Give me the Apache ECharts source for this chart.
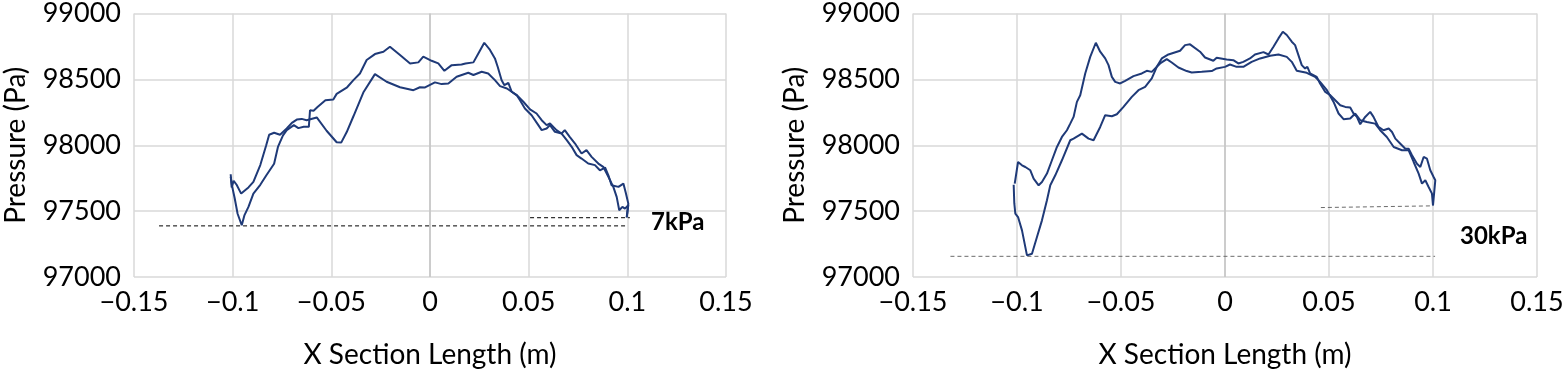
<!DOCTYPE html>
<html>
<head>
<meta charset="utf-8">
<script src="https://cdn.jsdelivr.net/npm/echarts@6/dist/echarts.min.js"></script>
<style>
html,body{margin:0;padding:0;background:#fff;}
#main{width:1565px;height:372px;}
</style>
</head>
<body>
<div id="main"></div>
<script>
// ---------- DATA ----------
const xTicks = [-0.15, -0.1, -0.05, 0, 0.05, 0.1, 0.15];
const yTicks = [97000, 97500, 98000, 98500, 99000];
const panelLabels = ['7kPa', '30kPa'];

// Panel 1 (7kPa)
const p1CurveA = [[-0.1010,97760],[-0.1003,97690],[-0.0990,97600],[-0.0975,97480],[-0.0954,97393],[-0.0940,97470],[-0.0920,97532],[-0.0895,97633],[-0.0860,97700],[-0.0830,97770],[-0.0790,97860],[-0.0770,97990],[-0.0745,98075],[-0.0726,98115],[-0.0690,98153],[-0.0667,98130],[-0.0640,98140],[-0.0614,98140],[-0.0608,98266],[-0.0590,98262],[-0.0570,98290],[-0.0530,98342],[-0.0490,98347],[-0.0473,98390],[-0.0420,98440],[-0.0388,98494],[-0.0355,98545],[-0.0321,98647],[-0.0279,98692],[-0.0236,98710],[-0.0203,98748],[-0.0152,98685],[-0.0101,98621],[-0.0059,98629],[-0.0034,98672],[-0.0025,98672],[0.0008,98641],[0.0042,98621],[0.0050,98634],[0.0073,98565],[0.0110,98608],[0.0160,98613],[0.0180,98621],[0.0220,98629],[0.0245,98697],[0.0275,98778],[0.0304,98723],[0.0329,98659],[0.0343,98596],[0.0363,98494],[0.0377,98456],[0.0397,98474],[0.0414,98406],[0.0439,98381],[0.0456,98342],[0.0481,98279],[0.0515,98228],[0.0549,98153],[0.0566,98115],[0.0591,98127],[0.0608,98153],[0.0633,98102],[0.0667,98089],[0.0683,98115],[0.0708,98064],[0.0735,98013],[0.0768,97937],[0.0793,97963],[0.0819,97912],[0.0853,97861],[0.0878,97836],[0.0904,97760],[0.0929,97684],[0.0946,97608],[0.0959,97507],[0.0975,97532],[0.0988,97519],[0.1005,97545],[0.0997,97450]];
const p1CurveB = [[-0.1010,97780],[-0.1005,97680],[-0.0995,97730],[-0.0980,97700],[-0.0957,97633],[-0.0920,97680],[-0.0895,97722],[-0.0860,97850],[-0.0830,98000],[-0.0815,98080],[-0.0790,98095],[-0.0760,98080],[-0.0726,98127],[-0.0700,98170],[-0.0675,98195],[-0.0650,98200],[-0.0625,98190],[-0.0574,98211],[-0.0524,98110],[-0.0473,98023],[-0.0450,98020],[-0.0422,98100],[-0.0388,98220],[-0.0338,98400],[-0.0279,98540],[-0.0220,98482],[-0.0152,98440],[-0.0084,98418],[-0.0051,98440],[-0.0025,98439],[0.0025,98477],[0.0059,98464],[0.0093,98469],[0.0135,98520],[0.0194,98550],[0.0220,98533],[0.0262,98558],[0.0295,98545],[0.0329,98494],[0.0355,98449],[0.0390,98431],[0.0439,98381],[0.0473,98330],[0.0507,98272],[0.0540,98241],[0.0566,98190],[0.0591,98153],[0.0608,98165],[0.0641,98115],[0.0667,98089],[0.0693,98039],[0.0718,97988],[0.0743,97925],[0.0768,97899],[0.0802,97861],[0.0836,97849],[0.0861,97810],[0.0887,97831],[0.0904,97772],[0.0920,97697],[0.0955,97684],[0.0980,97709],[0.0993,97633],[0.1005,97557],[0.0997,97456]];
const p1RefLow = [[-0.1373,97388],[0.1000,97388]];
const p1RefHigh = [[0.0507,97450],[0.1013,97450]];

// Panel 2 (30kPa)
const p2CurveC = [[-0.1011,97709],[-0.0995,97873],[-0.0976,97848],[-0.0960,97835],[-0.0952,97848],[-0.0936,97810],[-0.0920,97746],[-0.0896,97696],[-0.0880,97721],[-0.0856,97785],[-0.0832,97886],[-0.0808,97987],[-0.0784,98063],[-0.0760,98114],[-0.0744,98164],[-0.0728,98215],[-0.0712,98329],[-0.0696,98380],[-0.0672,98545],[-0.0648,98671],[-0.0621,98778],[-0.0600,98710],[-0.0576,98659],[-0.0560,98608],[-0.0544,98519],[-0.0528,98481],[-0.0504,98469],[-0.0480,98489],[-0.0440,98525],[-0.0400,98545],[-0.0376,98565],[-0.0352,98557],[-0.0312,98621],[-0.0280,98654],[-0.0256,98628],[-0.0224,98590],[-0.0184,98563],[-0.0160,98552],[-0.0112,98557],[-0.0064,98563],[-0.0040,98583],[0.0000,98595],[0.0024,98613],[0.0056,98595],[0.0088,98595],[0.0128,98633],[0.0169,98659],[0.0217,98679],[0.0257,98689],[0.0297,98671],[0.0321,98633],[0.0345,98565],[0.0393,98550],[0.0433,98519],[0.0457,98481],[0.0490,98418],[0.0522,98329],[0.0546,98241],[0.0570,98198],[0.0602,98203],[0.0626,98241],[0.0650,98190],[0.0682,98177],[0.0722,98164],[0.0746,98114],[0.0778,98063],[0.0811,97987],[0.0851,97962],[0.0883,97962],[0.0907,97873],[0.0931,97785],[0.0947,97709],[0.0963,97734],[0.0979,97683],[0.0995,97633],[0.1000,97544]];
const p2CurveD = [[-0.1016,97700],[-0.1013,97560],[-0.1008,97481],[-0.0995,97455],[-0.0976,97354],[-0.0952,97164],[-0.0928,97177],[-0.0904,97303],[-0.0880,97430],[-0.0856,97582],[-0.0840,97696],[-0.0816,97772],[-0.0784,97886],[-0.0744,98038],[-0.0728,98050],[-0.0688,98088],[-0.0656,98050],[-0.0632,98038],[-0.0600,98139],[-0.0576,98228],[-0.0544,98220],[-0.0520,98235],[-0.0488,98291],[-0.0448,98367],[-0.0416,98418],[-0.0384,98443],[-0.0352,98507],[-0.0328,98595],[-0.0304,98659],[-0.0272,98689],[-0.0216,98717],[-0.0192,98760],[-0.0168,98766],[-0.0120,98710],[-0.0096,98666],[-0.0056,98641],[-0.0040,98664],[0.0008,98651],[0.0040,98646],[0.0064,98621],[0.0088,98633],[0.0120,98659],[0.0144,98689],[0.0185,98707],[0.0209,98689],[0.0233,98748],[0.0257,98811],[0.0278,98862],[0.0297,98837],[0.0321,98786],[0.0337,98760],[0.0353,98684],[0.0369,98608],[0.0385,98583],[0.0396,98595],[0.0409,98545],[0.0425,98532],[0.0441,98519],[0.0457,98469],[0.0482,98405],[0.0506,98380],[0.0530,98342],[0.0554,98304],[0.0578,98291],[0.0602,98286],[0.0618,98241],[0.0634,98215],[0.0650,98159],[0.0674,98215],[0.0698,98253],[0.0714,98215],[0.0738,98139],[0.0762,98114],[0.0787,98127],[0.0803,98101],[0.0819,98050],[0.0843,98012],[0.0867,97974],[0.0883,97974],[0.0899,97924],[0.0923,97860],[0.0939,97835],[0.0955,97911],[0.0971,97898],[0.0979,97911],[0.0987,97810],[0.1003,97759],[0.1011,97734],[0.1000,97544]];
const p2RefLow = [[-0.1320,97157],[0.1010,97157]];
const p2RefHigh = [[0.0461,97527],[0.1000,97540]];

const xTitle = 'X Section Length (m)';
const yTitle = 'Pressure (Pa)';

// ---------- CHART ----------
const FONT = 'Lato, "Open Sans", sans-serif';
const LINE_COLOR = '#1F3A78';
const GRID_COLOR = '#d9d9d9';

function fmtX(v){
  if (Math.abs(v) < 1e-9) return '0';
  const s = String(+Math.abs(v).toFixed(2));
  return (v < 0 ? '\u2212' : '') + s;
}
function fmtY(v){ return String(Math.round(v)); }

function xAxisFor(i){
  return {
    type:'value', gridIndex:i, min:xTicks[0], max:xTicks[xTicks.length-1], interval:0.05,
    name:xTitle, nameLocation:'middle', nameGap:64,
    nameTextStyle:{fontFamily:FONT, fontSize:28, color:'#000'},
    axisLine:{show:false}, axisTick:{show:false},
    axisLabel:{fontFamily:FONT, fontSize:27, color:'#000', margin:12, formatter:fmtX},
    splitLine:{show:true, lineStyle:{color:GRID_COLOR, width:1.5}}
  };
}
function yAxisFor(i){
  return {
    type:'value', gridIndex:i, min:yTicks[0], max:yTicks[yTicks.length-1], interval:500,
    name:yTitle, nameLocation:'middle', nameGap:104, nameRotate:90,
    nameTextStyle:{fontFamily:FONT, fontSize:28, color:'#000'},
    axisLine:{show:false}, axisTick:{show:false},
    axisLabel:{fontFamily:FONT, fontSize:27, color:'#000', margin:13, formatter:fmtY},
    splitLine:{show:true, lineStyle:{color:GRID_COLOR, width:1.5}}
  };
}
function curve(data, i, withZero){
  const s = {
    type:'line', xAxisIndex:i, yAxisIndex:i, data:data, showSymbol:false, symbol:'none',
    smooth:false, animation:false, lineStyle:{color:LINE_COLOR, width:2}, z:5
  };
  if (withZero){
    s.markLine = {silent:true, symbol:'none', animation:false, label:{show:false},
      lineStyle:{color:'#c4c4c4', type:'solid', width:1.5}, data:[{xAxis:0}], z:1};
  }
  return s;
}
function ref(data, i, color){
  return {
    type:'line', xAxisIndex:i, yAxisIndex:i, data:data, showSymbol:false, symbol:'none',
    animation:false, lineStyle:{color:color, width:1, type:[4,3]}, z:4
  };
}

const chart = echarts.init(document.getElementById('main'), null, {renderer:'canvas'});
chart.setOption({
  backgroundColor:'#fff',
  animation:false,
  grid:[
    {left:134, right:839, top:13.5, bottom:95, containLabel:false, outerBoundsMode:'none'},
    {left:913, right:28, top:13.5, bottom:95, containLabel:false, outerBoundsMode:'none'}
  ],
  xAxis:[xAxisFor(0), xAxisFor(1)],
  yAxis:[yAxisFor(0), yAxisFor(1)],
  series:[
    curve(p1CurveA, 0, true),
    curve(p1CurveB, 0, false),
    ref(p1RefLow, 0, '#000'),
    ref(p1RefHigh, 0, '#000'),
    curve(p2CurveC, 1, true),
    curve(p2CurveD, 1, false),
    ref(p2RefLow, 1, '#6b6b6b'),
    ref(p2RefHigh, 1, '#6b6b6b')
  ],
  graphic:[
    {type:'text', left:651, top:210, style:{text:panelLabels[0], fontFamily:FONT, fontWeight:'bold', fontSize:24, fill:'#000'}},
    {type:'text', left:1460, top:224, style:{text:panelLabels[1], fontFamily:FONT, fontWeight:'bold', fontSize:24, fill:'#000'}}
  ]
});
</script>
</body>
</html>
